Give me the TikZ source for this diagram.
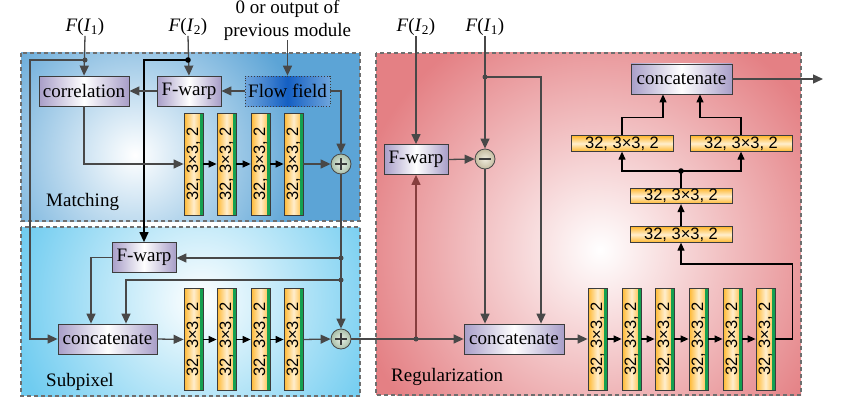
\documentclass[tikz,border=0pt]{standalone}
\usepackage{fontspec}
\usepackage{graphicx}
\setmainfont{Liberation Serif}
\newfontfamily\blkfont{Liberation Sans}
\usetikzlibrary{arrows.meta,calc}
\definecolor{lc}{RGB}{72,72,72}
\definecolor{bc}{RGB}{60,60,60}
\definecolor{purp}{RGB}{168,158,200}
\definecolor{orng}{RGB}{255,184,48}
\definecolor{orlight}{RGB}{255,238,205}
\definecolor{grn}{RGB}{20,160,80}
\definecolor{matchout}{RGB}{92,164,214}
\definecolor{subout}{RGB}{112,204,240}
\definecolor{regout}{RGB}{228,128,132}
\definecolor{flowdark}{RGB}{20,95,195}
\definecolor{flowlight}{RGB}{110,165,220}
\definecolor{panelc}{RGB}{110,110,110}
\definecolor{redln}{RGB}{135,62,62}
\definecolor{plusin}{RGB}{232,240,230}
\definecolor{plusout}{RGB}{168,190,168}
\definecolor{minin}{RGB}{240,236,222}
\definecolor{minout}{RGB}{196,188,160}
\newcommand{\txtf}{\fontsize{19}{23}\selectfont}
\newcommand{\blkf}{\blkfont\fontsize{16.5}{18}\selectfont}
\newcommand{\blktxt}{32, 3×3, 2}
\tikzset{
  ln/.style={draw=lc, line width=1.3pt},
  ar/.style={ln, -{Triangle[length=10pt,width=9pt]}},
  bar/.style={draw=black, line width=1.2pt, -{Triangle[length=8pt,width=7pt]}},
  pbox/.style={draw=bc, line width=0.8pt, left color=purp, right color=purp, middle color=white,
    minimum height=30pt, inner sep=0pt, font=\txtf},
  vblk/.style={draw=bc, line width=0.8pt, left color=orng, right color=orng, middle color=orlight,
    minimum width=19pt, minimum height=102pt, inner sep=0pt, font=\blkf,
    path picture={\fill[grn] ([xshift=-3pt]path picture bounding box.south east) rectangle (path picture bounding box.north east);}},
  hblk/.style={draw=bc, line width=0.8pt, top color=orng, bottom color=orng, middle color=orlight,
    minimum width=102pt, minimum height=15.5pt, inner sep=0pt, font=\blkf},
  opc/.style={circle, draw=lc, line width=0.8pt, minimum size=20pt, inner sep=0pt},
  lbl/.style={font=\txtf, inner sep=0pt},
  panel/.style={draw=panelc, line width=1.2pt, dash pattern=on 4pt off 3pt},
  dot/.style={fill=lc},
}
\begin{document}
\begin{tikzpicture}[x=1pt,y=-1pt]
\useasboundingbox (0,0) rectangle (864,404);
% ---------- panels ----------
\begin{scope}
  \clip (21,53) rectangle (360,221);
  \fill[matchout] (21,53) rectangle (360,221);
  \shade[inner color=white, outer color=matchout] (135,155) circle (170);
\end{scope}
\draw[panel] (21,53) rectangle (360,221);
\begin{scope}
  \clip (21,227) rectangle (360,396);
  \fill[subout] (21,227) rectangle (360,396);
  \shade[inner color=white, outer color=subout] (200,300) circle (190);
\end{scope}
\draw[panel] (21,227) rectangle (360,396);
\begin{scope}
  \clip (376,53) rectangle (801,395);
  \fill[regout] (376,53) rectangle (801,395);
  \shade[inner color=white, outer color=regout] (600,250) circle (250);
\end{scope}
\draw[panel] (376,53) rectangle (801,395);

% ---------- labels ----------
\node[lbl] (fi1) at (85,27) {\textit{F}(\textit{I}\textsubscript{1})};
\node[lbl] (fi2) at (188,27) {\textit{F}(\textit{I}\textsubscript{2})};
\node[lbl, align=center] (prev) at (287.5,20) {0 or output of\\previous module};
\node[lbl] (fi2b) at (416,27) {\textit{F}(\textit{I}\textsubscript{2})};
\node[lbl] (fi1b) at (485,27) {\textit{F}(\textit{I}\textsubscript{1})};
\node[lbl, anchor=west] (lm) at (46,202) {Matching};
\node[lbl, anchor=west] (ls) at (46,382) {Subpixel};
\node[lbl, anchor=west] (lr) at (391,377) {Regularization};

% ---------- Matching ----------
\node[pbox, minimum width=90pt] (corr) at (84,91) {correlation};
\node[pbox, minimum width=64pt] (fw1) at (189,91) {F-warp};
\node[draw=bc, line width=0.8pt, dotted, left color=flowlight, right color=flowlight, middle color=flowdark,
  minimum width=85pt, minimum height=30pt, inner sep=0pt, font=\txtf] (flow) at (287.5,91) {Flow field};
\node[vblk] (m1) at (193.5,164) {\rotatebox{90}{\blktxt}};
\node[vblk] (m2) at (226.5,164) {\rotatebox{90}{\blktxt}};
\node[vblk] (m3) at (260.5,164) {\rotatebox{90}{\blktxt}};
\node[vblk] (m4) at (293.5,164) {\rotatebox{90}{\blktxt}};
\node[opc, inner color=plusin, outer color=plusout,
  path picture={\draw[bc, line width=1.6pt] ($(path picture bounding box.center)+(-6,0)$) -- ($(path picture bounding box.center)+(6,0)$) ($(path picture bounding box.center)+(0,-6)$) -- ($(path picture bounding box.center)+(0,6)$);}] (p1) at (341,164) {};

% ---------- Subpixel ----------
\node[pbox, minimum width=64pt] (fw2) at (144,257.5) {F-warp};
\node[pbox, minimum width=99pt] (cc) at (107.5,339) {concatenate};
\node[vblk] (s1) at (193.5,339.5) {\rotatebox{90}{\blktxt}};
\node[vblk] (s2) at (226.5,339.5) {\rotatebox{90}{\blktxt}};
\node[vblk] (s3) at (260.5,339.5) {\rotatebox{90}{\blktxt}};
\node[vblk] (s4) at (293.5,339.5) {\rotatebox{90}{\blktxt}};
\node[opc, inner color=plusin, outer color=plusout,
  path picture={\draw[bc, line width=1.6pt] ($(path picture bounding box.center)+(-6,0)$) -- ($(path picture bounding box.center)+(6,0)$) ($(path picture bounding box.center)+(0,-6)$) -- ($(path picture bounding box.center)+(0,6)$);}] (p2) at (341,339) {};

% ---------- Regularization ----------
\node[pbox, minimum width=64pt] (fw3) at (416,159.5) {F-warp};
\node[opc, inner color=minin, outer color=minout,
  path picture={\draw[bc, line width=1.8pt] ($(path picture bounding box.center)+(-6,0)$) -- ($(path picture bounding box.center)+(6,0)$);}] (mn) at (485,159) {};
\node[pbox, minimum width=100pt] (rc) at (514,339) {concatenate};
\node[vblk] (r1) at (597.5,339) {\rotatebox{90}{\blktxt}};
\node[vblk] (r2) at (631.5,339) {\rotatebox{90}{\blktxt}};
\node[vblk] (r3) at (664.5,339) {\rotatebox{90}{\blktxt}};
\node[vblk] (r4) at (698.5,339) {\rotatebox{90}{\blktxt}};
\node[vblk] (r5) at (732.5,339) {\rotatebox{90}{\blktxt}};
\node[vblk] (r6) at (765.5,339) {\rotatebox{90}{\blktxt}};
\node[hblk] (h1) at (681,234.5) {\blktxt};
\node[hblk] (h2) at (681,196) {\blktxt};
\node[hblk] (hl) at (622,143.5) {\blktxt};
\node[hblk] (hr) at (741,143.5) {\blktxt};
\node[pbox, minimum width=101pt] (ct) at (681.5,79) {concatenate};

% ---------- coordinates ----------
\coordinate (d1) at (85,60);
\coordinate (d2) at (188,60);
\coordinate (d3) at (341,258);
\coordinate (d4) at (341,280);
\coordinate (d5) at (416,339);
\coordinate (d6) at (485,77);
\coordinate (d7) at (681,171);
\coordinate (out) at (823,79);

% ---------- Matching connectors ----------
\draw[ar] (fi1.south) -- (corr.north);
\draw[ar] (d1) -- ++(-55,0) |- (cc.west);
\draw[ar] (fi2.south) -- (fw1.north);
\draw[draw=black, line width=1.3pt, -{Triangle[length=10pt,width=9pt]}] (d2) -| (fw2.north);
\fill[black] (d2) circle (2.8pt);
\fill[dot] (d1) circle (2.5pt);
\draw[ar] (prev.south) -- (flow.north);
\draw[ar] (flow.west) -- (fw1.east);
\draw[ar] (fw1.west) -- (corr.east);
\draw[ar] (flow.east) -| (p1.north);
\draw[ar] (corr.south) |- (m1.west);
\draw[bar] (m1.east) -- (m2.west);
\draw[bar] (m2.east) -- (m3.west);
\draw[bar] (m3.east) -- (m4.west);
\draw[ar] (m4.east) -- (p1.west);

% ---------- Subpixel connectors ----------
\draw[ar] (p1.south) -- (p2.north);
\fill[dot] (d3) circle (2.5pt);
\fill[dot] (d4) circle (2.5pt);
\draw[ar] (d3) -- (d3 -| fw2.east);
\draw[ar] (d4) -| ([xshift=18.5pt]cc.north);
\draw[ar] (fw2.west) -| ([xshift=-16.5pt]cc.north);
\draw[ar] (cc.east) -- (s1.west);
\draw[bar] (s1.east) -- (s2.west);
\draw[bar] (s2.east) -- (s3.west);
\draw[bar] (s3.east) -- (s4.west);
\draw[ar] (s4.east) -- (p2.west);

% ---------- Regularization connectors ----------
\draw[ar] (p2.east) -- (rc.west);
\draw[draw=redln, line width=1.3pt, -{Triangle[length=10pt,width=9pt]}] (d5) -- (fw3.south);
\fill[dot] (d5) circle (2.5pt);
\draw[ar] (fi2b.south) -- (fw3.north);
\draw[ar] (fi1b.south) -- (mn.north);
\fill[dot] (d6) circle (2.5pt);
\draw[ar] (d6) -| ([xshift=27pt]rc.north);
\draw[ar] (fw3.east) -- (mn.west);
\draw[ar] (mn.south) -- (rc.north -| mn.south);
\draw[ar] (rc.east) -- (r1.west);
\draw[bar] (r1.east) -- (r2.west);
\draw[bar] (r2.east) -- (r3.west);
\draw[bar] (r3.east) -- (r4.west);
\draw[bar] (r4.east) -- (r5.west);
\draw[bar] (r5.east) -- (r6.west);
\draw[bar] (r6.east) -- ++(17,0) -- ++(0,-75) -| (h1.south);
\draw[bar] (h1.north) -- (h2.south);
\draw[draw=black, line width=1.2pt] (h2.north) -- (d7);
\fill[black] (d7) circle (2.8pt);
\draw[bar] (d7) -| (hl.south);
\draw[bar] (d7) -| (hr.south);
\draw[bar] (hl.north) -- ++(0,-18) -| ([xshift=-18.5pt]ct.south);
\draw[bar] (hr.north) -- ++(0,-18) -| ([xshift=18.5pt]ct.south);
\draw[ar] (ct.east) -- (out);
\end{tikzpicture}
\end{document}
